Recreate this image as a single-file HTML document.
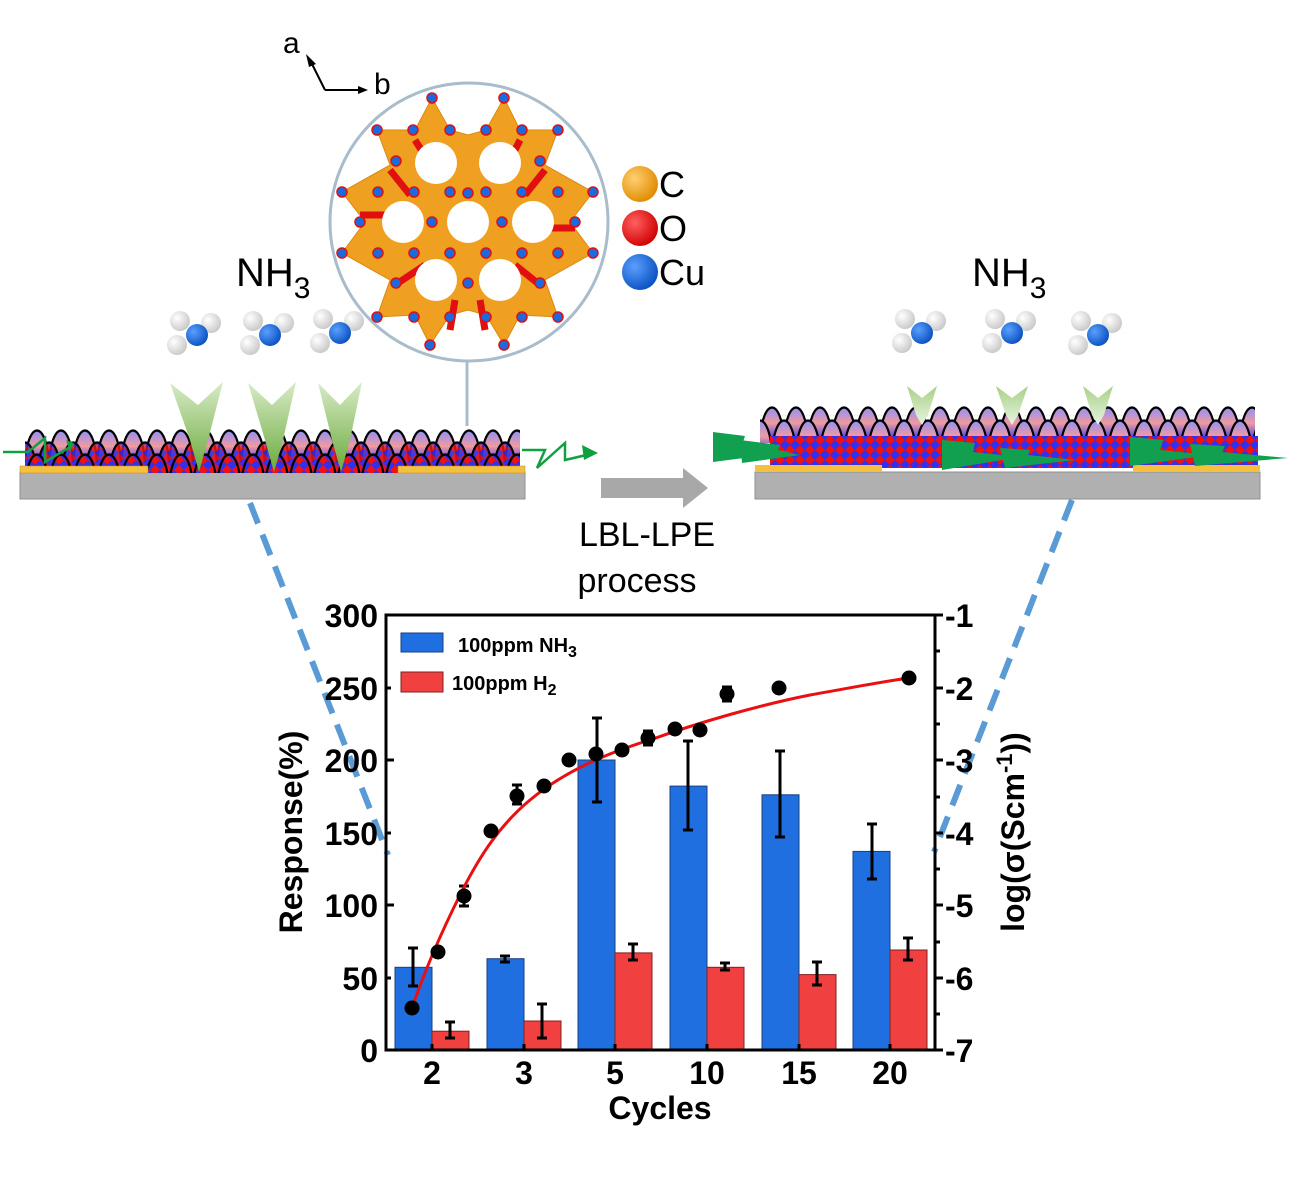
<!DOCTYPE html>
<html><head><meta charset="utf-8"><style>
html,body{margin:0;padding:0;background:#fff;}
svg{display:block;}
text{font-family:"Liberation Sans",Arial,sans-serif;}
</style></head><body>
<svg width="1299" height="1181" viewBox="0 0 1299 1181" xmlns="http://www.w3.org/2000/svg">
<defs>
<pattern id="chk" width="10" height="10" patternUnits="userSpaceOnUse">
<rect width="10" height="10" fill="#f01010"/><polygon points="5,0 10,5 5,10 0,5" fill="#3030f0"/>
</pattern>
<linearGradient id="dg" x1="0" y1="0" x2="0" y2="1">
<stop offset="0" stop-color="#9090f8"/><stop offset="0.5" stop-color="#f09aa0"/><stop offset="1" stop-color="#4040f0"/>
</linearGradient>
<pattern id="dL1" width="24" height="46" patternUnits="userSpaceOnUse" patternTransform="translate(25,416)">
<path d="M0,46 C3,4 21,4 24,46" fill="url(#dg)" stroke="#000" stroke-width="2.2"/>
</pattern>
<pattern id="dL2" width="24" height="46" patternUnits="userSpaceOnUse" patternTransform="translate(37,428)">
<path d="M0,46 C3,4 21,4 24,46" fill="url(#chk)" fill-opacity="0.85" stroke="#000" stroke-width="2.2"/>
</pattern>
<pattern id="dL3" width="24" height="46" patternUnits="userSpaceOnUse" patternTransform="translate(25,440)">
<path d="M0,46 C3,4 21,4 24,46" fill="url(#chk)" stroke="#000" stroke-width="2.2"/>
</pattern>
<pattern id="dR1" width="24" height="46" patternUnits="userSpaceOnUse" patternTransform="translate(760,393)">
<path d="M0,46 C3,4 21,4 24,46" fill="url(#dg)" stroke="#000" stroke-width="2.2"/>
</pattern>
<pattern id="dR2" width="24" height="46" patternUnits="userSpaceOnUse" patternTransform="translate(772,406)">
<path d="M0,46 C3,4 21,4 24,46" fill="url(#dg)" stroke="#000" stroke-width="2.2"/>
</pattern>
<linearGradient id="ga" x1="0" y1="0" x2="0" y2="1">
<stop offset="0" stop-color="#d8ebc8"/><stop offset="1" stop-color="#6aaa3a"/>
</linearGradient>
<linearGradient id="gb" x1="0" y1="0" x2="0" y2="1">
<stop offset="0" stop-color="#a8d088"/><stop offset="1" stop-color="#e8f4e0"/>
</linearGradient>
<radialGradient id="bN" cx="0.35" cy="0.35" r="0.7"><stop offset="0" stop-color="#5aa0ff"/><stop offset="1" stop-color="#0a50c0"/></radialGradient>
<radialGradient id="bH" cx="0.35" cy="0.35" r="0.7"><stop offset="0" stop-color="#ffffff"/><stop offset="1" stop-color="#c8c8c8"/></radialGradient>
<radialGradient id="bC" cx="0.35" cy="0.35" r="0.7"><stop offset="0" stop-color="#ffd070"/><stop offset="1" stop-color="#e08a00"/></radialGradient>
<radialGradient id="bO" cx="0.35" cy="0.35" r="0.7"><stop offset="0" stop-color="#ff6060"/><stop offset="1" stop-color="#d00000"/></radialGradient>
<g id="nh3">
<circle cx="-17" cy="-14" r="10" fill="url(#bH)"/><circle cx="14" cy="-12" r="10" fill="url(#bH)"/><circle cx="-20" cy="10" r="10" fill="url(#bH)"/>
<circle cx="0" cy="0" r="11" fill="url(#bN)"/>
</g>
</defs>

<g stroke="#000" stroke-width="2" fill="none">
<path d="M325,90 L310,60"/><path d="M325,90 L362,90"/>
</g>
<polygon points="306,54 316,64 309,67" fill="#000"/>
<polygon points="368,90 358,86 358,94" fill="#000"/>
<text x="283" y="53" font-size="30">a</text>
<text x="374" y="94" font-size="30">b</text>

<circle cx="469" cy="222" r="139" fill="none" stroke="#a8bccb" stroke-width="3"/>
<line x1="467" y1="361" x2="467" y2="426" stroke="#a8bccb" stroke-width="3"/>
<polygon fill="#f0a020" stroke="#d88a10" stroke-width="1" points="432,98 450,130 468,135 486,130 504,98 520,130 558,130 545,165 593,192 570,222 593,253 545,280 558,317 520,315 504,345 486,315 468,310 450,315 430,345 415,315 377,317 390,280 342,253 365,222 342,192 390,165 377,130 415,130"/>
<g fill="none" stroke="#e01010" stroke-width="7">
<path d="M415,140 L440,180"/><path d="M520,140 L500,180"/><path d="M360,215 L395,215"/><path d="M575,228 L540,228"/><path d="M395,285 L425,265"/><path d="M540,285 L515,265"/><path d="M450,330 L455,300"/><path d="M485,330 L480,300"/><path d="M545,170 L525,195"/><path d="M390,170 L410,195"/>
</g>
<g fill="#fff">
<circle cx="468" cy="222" r="21"/><circle cx="436" cy="163" r="21"/><circle cx="500" cy="163" r="21"/><circle cx="403" cy="222" r="21"/><circle cx="533" cy="222" r="21"/><circle cx="436" cy="280" r="21"/><circle cx="500" cy="280" r="21"/>
</g>
<g fill="#1a6ae0" stroke="#e01010" stroke-width="1.5">
<circle cx="432" cy="98" r="5"/><circle cx="504" cy="98" r="5"/><circle cx="377" cy="130" r="5"/><circle cx="558" cy="130" r="5"/><circle cx="342" cy="192" r="5"/><circle cx="593" cy="192" r="5"/><circle cx="342" cy="253" r="5"/><circle cx="593" cy="253" r="5"/><circle cx="377" cy="317" r="5"/><circle cx="558" cy="317" r="5"/><circle cx="430" cy="345" r="5"/><circle cx="504" cy="345" r="5"/>
<circle cx="413" cy="130" r="5"/><circle cx="450" cy="130" r="5"/><circle cx="486" cy="130" r="5"/><circle cx="522" cy="130" r="5"/>
<circle cx="396" cy="161" r="5"/><circle cx="540" cy="161" r="5"/><circle cx="468" cy="193" r="5"/><circle cx="378" cy="192" r="5"/><circle cx="558" cy="192" r="5"/><circle cx="414" cy="192" r="5"/><circle cx="450" cy="192" r="5"/><circle cx="486" cy="192" r="5"/><circle cx="522" cy="192" r="5"/>
<circle cx="360" cy="222" r="5"/><circle cx="432" cy="222" r="5"/><circle cx="502" cy="222" r="5"/><circle cx="575" cy="222" r="5"/>
<circle cx="378" cy="253" r="5"/><circle cx="414" cy="253" r="5"/><circle cx="450" cy="253" r="5"/><circle cx="486" cy="253" r="5"/><circle cx="522" cy="253" r="5"/><circle cx="558" cy="253" r="5"/>
<circle cx="396" cy="283" r="5"/><circle cx="468" cy="283" r="5"/><circle cx="540" cy="283" r="5"/><circle cx="414" cy="317" r="5"/><circle cx="450" cy="317" r="5"/><circle cx="486" cy="317" r="5"/><circle cx="522" cy="317" r="5"/>
</g>

<circle cx="640" cy="184" r="18" fill="url(#bC)"/><circle cx="640" cy="228" r="18" fill="url(#bO)"/><circle cx="640" cy="272" r="18" fill="url(#bN)"/>
<text x="659" y="197" font-size="36">C</text>
<text x="659" y="241" font-size="36">O</text>
<text x="659" y="285" font-size="36">Cu</text>

<text x="236" y="286" font-size="40">NH<tspan font-size="30" dy="12">3</tspan></text>
<text x="972" y="286" font-size="40">NH<tspan font-size="30" dy="12">3</tspan></text>
<use href="#nh3" x="197" y="335"/><use href="#nh3" x="270" y="335"/><use href="#nh3" x="340" y="333"/>
<use href="#nh3" x="922" y="333"/><use href="#nh3" x="1012" y="333"/><use href="#nh3" x="1098" y="335"/>

<!-- left device -->
<rect x="20" y="472" width="505" height="27" fill="#b0b0b0" stroke="#909090"/>
<rect x="25" y="450" width="495" height="23" fill="url(#chk)"/>
<rect x="25" y="428" width="495" height="45" fill="url(#dL1)"/>
<rect x="25" y="440" width="495" height="33" fill="url(#dL2)"/>
<rect x="25" y="452" width="495" height="21" fill="url(#dL3)"/>
<rect x="20" y="466" width="128" height="7" fill="#f5c040" stroke="#b09040" stroke-width="0.5"/>
<rect x="398" y="466" width="127" height="7" fill="#f5c040" stroke="#b09040" stroke-width="0.5"/>
<g fill="url(#ga)">
<polygon points="170,383 198,405 223,382 208,440 199,472 190,440"/>
<polygon points="248,383 272,405 296,382 283,440 274,472 265,440"/>
<polygon points="318,383 340,405 362,382 350,440 341,472 332,440"/>
</g>
<g fill="none" stroke="#10a040" stroke-width="2.5">
<path d="M3,452 L28,452 L45,438 L45,462 L70,447"/>
<path d="M522,450 L545,450 L537,468 L565,443 L565,460 L595,453"/>
</g>
<polygon points="74,443 66,440 70,452" fill="#10a040"/>
<polygon points="598,453 582,445 584,460" fill="#10a040"/>

<polygon points="601,478 683,478 683,468 708,488 683,508 683,498 601,498" fill="#a8a8a8"/>
<text x="647" y="546" font-size="34" text-anchor="middle">LBL-LPE</text>
<text x="637" y="592" font-size="34" text-anchor="middle">process</text>

<!-- right device -->
<rect x="755" y="472" width="505" height="27" fill="#b0b0b0" stroke="#909090"/>
<rect x="760" y="405" width="495" height="38" fill="url(#dR1)"/>
<rect x="760" y="418" width="495" height="25" fill="url(#dR2)"/>
<rect x="770" y="436" width="488" height="32" fill="url(#chk)"/>
<rect x="755" y="465" width="127" height="7" fill="#f5c040"/>
<rect x="1133" y="465" width="127" height="7" fill="#f5c040"/>
<g fill="url(#gb)">
<polygon points="907,386 922,398 937,386 928,415 922,425 916,415"/>
<polygon points="996,386 1012,398 1028,386 1018,415 1012,425 1006,415"/>
<polygon points="1083,386 1098,398 1113,386 1104,415 1098,425 1092,415"/>
</g>
<g fill="#10a050">
<polygon points="713,432 745,436 742,445 790,452 713,462"/>
<polygon points="740,440 780,445 778,450 800,455 742,463"/>
<polygon points="942,440 975,443 973,452 1020,457 942,470"/>
<polygon points="1000,448 1030,450 1028,455 1075,460 1005,468"/>
<polygon points="1130,437 1163,440 1160,450 1210,455 1130,466"/>
<polygon points="1190,444 1225,446 1222,452 1288,458 1195,466"/>
</g>

<g stroke="#5b9bd5" stroke-width="6" stroke-dasharray="22,12" fill="none">
<path d="M250,503 L388,855"/><path d="M1072,500 L934,852"/>
</g>

<g>
<g fill="#1f6fe0" stroke="#1a3f80" stroke-width="1">
<rect x="395" y="967.3" width="37" height="82.7"/>
<rect x="487" y="958.7" width="37" height="91.3"/>
<rect x="578" y="760" width="37" height="290"/>
<rect x="670" y="786.1" width="37" height="263.9"/>
<rect x="762" y="794.8" width="37" height="255.2"/>
<rect x="853" y="851.4" width="37" height="198.6"/>
</g>
<g fill="#f04040" stroke="#802020" stroke-width="1">
<rect x="432" y="1031.2" width="37" height="18.8"/>
<rect x="524" y="1021" width="37" height="29"/>
<rect x="615" y="952.9" width="37" height="97.1"/>
<rect x="707" y="967.3" width="37" height="82.7"/>
<rect x="799" y="974.6" width="37" height="75.4"/>
<rect x="890" y="950" width="37" height="100"/>
</g>
<g stroke="#000" stroke-width="3" fill="none">
<path d="M413,986 V948 M408,986 H418 M408,948 H418"/>
<path d="M505,962 V956 M500,962 H510 M500,956 H510"/>
<path d="M597,802 V718 M592,802 H602 M592,718 H602"/>
<path d="M688,830 V741 M683,830 H693 M683,741 H693"/>
<path d="M780,837 V751 M775,837 H785 M775,751 H785"/>
<path d="M872,879 V824 M867,879 H877 M867,824 H877"/>
<path d="M450,1038 V1022 M445,1038 H455 M445,1022 H455"/>
<path d="M542,1038 V1004 M537,1038 H547 M537,1004 H547"/>
<path d="M633,960 V944 M628,960 H638 M628,944 H638"/>
<path d="M725,970 V963 M720,970 H730 M720,963 H730"/>
<path d="M817,985 V962 M812,985 H822 M812,962 H822"/>
<path d="M908,960 V938 M903,960 H913 M903,938 H913"/>
<path d="M464,906 V886 M459,906 H469 M459,886 H469"/>
<path d="M517,804 V785 M512,804 H522 M512,785 H522"/>
<path d="M648,745 V731 M643,745 H653 M643,731 H653"/>
<path d="M727,701 V687 M722,701 H732 M722,687 H732"/>
</g>
<path d="M412,1008 C425,970 440,935 460,895 C480,855 500,825 530,800 C560,775 600,755 650,740 C700,722 760,705 810,695 C850,688 880,682 909,678" fill="none" stroke="#e81010" stroke-width="3"/>
<g fill="#000">
<circle cx="412" cy="1008" r="7.5"/><circle cx="438" cy="952" r="7.5"/><circle cx="464" cy="896" r="7.5"/><circle cx="491" cy="831" r="7.5"/><circle cx="517" cy="796" r="7.5"/><circle cx="544" cy="786" r="7.5"/><circle cx="569" cy="760" r="7.5"/><circle cx="596" cy="754" r="7.5"/><circle cx="622" cy="750" r="7.5"/><circle cx="648" cy="738" r="7.5"/><circle cx="675" cy="729" r="7.5"/><circle cx="700" cy="730" r="7.5"/><circle cx="727" cy="694" r="7.5"/><circle cx="779" cy="688" r="7.5"/><circle cx="909" cy="678" r="7.5"/>
</g>
<rect x="386" y="615" width="549" height="435" fill="none" stroke="#000" stroke-width="3"/>
<g stroke="#000" stroke-width="3">
<path d="M386,615 h8 M386,688 h5 M386,760 h8 M386,833 h5 M386,905 h8 M386,978 h5"/>
<path d="M935,615 h8 M935,651 h5 M935,688 h8 M935,724 h5 M935,760 h8 M935,797 h5 M935,833 h8 M935,869 h5 M935,905 h8 M935,942 h5 M935,978 h8 M935,1014 h5 M935,1050 h8"/>
<path d="M432,1050 v-6 M524,1050 v-6 M615,1050 v-6 M707,1050 v-6 M799,1050 v-6 M890,1050 v-6"/>
</g>
<rect x="401" y="633" width="42" height="19" fill="#1f6fe0" stroke="#1a3f80"/>
<rect x="401" y="672" width="42" height="20" fill="#f04040" stroke="#802020"/>
<text x="458" y="652" font-size="20" font-weight="bold">100ppm NH<tspan font-size="16" dy="5">3</tspan></text>
<text x="452" y="690" font-size="20" font-weight="bold">100ppm H<tspan font-size="16" dy="5">2</tspan></text>
<g font-size="32" font-weight="bold" text-anchor="end">
<text x="378" y="627">300</text><text x="378" y="700">250</text><text x="378" y="772">200</text><text x="378" y="845">150</text><text x="378" y="917">100</text><text x="378" y="990">50</text><text x="378" y="1062">0</text>
</g>
<g font-size="32" font-weight="bold">
<text x="945" y="627">-1</text><text x="945" y="700">-2</text><text x="945" y="772">-3</text><text x="945" y="845">-4</text><text x="945" y="917">-5</text><text x="945" y="990">-6</text><text x="945" y="1062">-7</text>
</g>
<g font-size="32" font-weight="bold" text-anchor="middle">
<text x="432" y="1084">2</text><text x="524" y="1084">3</text><text x="615" y="1084">5</text><text x="707" y="1084">10</text><text x="799" y="1084">15</text><text x="890" y="1084">20</text>
<text x="660" y="1119">Cycles</text>
<text transform="translate(302,832) rotate(-90)">Response(%)</text>
</g>
<text transform="translate(1024,832) rotate(-90)" font-size="32" font-weight="bold" text-anchor="middle">log(σ(Scm<tspan font-size="22" dy="-12">-1</tspan><tspan dy="12">))</tspan></text>
</g>
</svg>
</body></html>
